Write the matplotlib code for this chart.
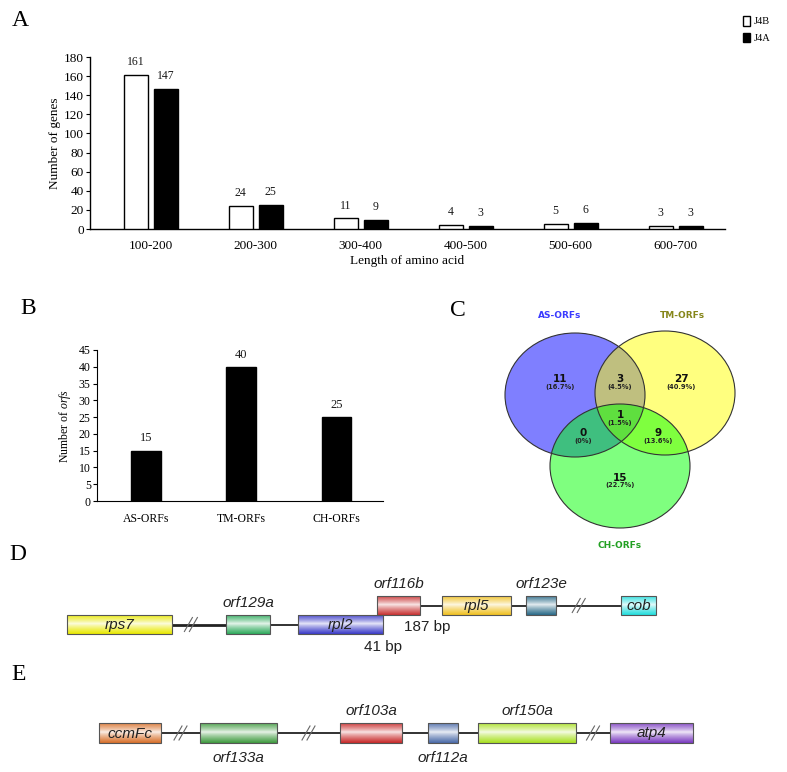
import numpy as np
import matplotlib
matplotlib.use('Agg')
import matplotlib.pyplot as plt
from matplotlib.patches import Ellipse, Rectangle, Patch

W, H = 787, 772
plt.rcParams['font.family'] = ['Liberation Serif', 'DejaVu Serif']
plt.rcParams['mathtext.fontset'] = 'custom'
plt.rcParams['mathtext.rm'] = 'Liberation Serif'
plt.rcParams['mathtext.it'] = 'Liberation Serif:italic'

# ---------------- data ----------------
len_bins = ['100-200', '200-300', '300-400', '400-500', '500-600', '600-700']
j4b_counts = [161, 24, 11, 4, 5, 3]
j4a_counts = [147, 25, 9, 3, 6, 3]

orf_groups = ['AS-ORFs', 'TM-ORFs', 'CH-ORFs']
orf_counts = [15, 40, 25]

venn_sets = ['AS-ORFs', 'TM-ORFs', 'CH-ORFs']
venn_regions = ['AS', 'TM', 'AS&TM', 'ALL', 'AS&CH', 'TM&CH', 'CH']
venn_counts = [11, 27, 3, 1, 0, 9, 15]

d_genes = ['rps7', 'orf129a', 'rpl2', 'orf116b', 'rpl5', 'orf123e', 'cob']
d_start = [67, 226, 298, 377, 442, 526, 621]
d_end = [172, 270, 383, 420, 511, 556, 656]
d_level = [0, 0, 0, 1, 1, 1, 1]
d_label_pos = ['in', 'above', 'in', 'above', 'in', 'above', 'in']
d_breaks_after = [0, 5]
d_notes = ['41 bp', '187 bp']

e_genes = ['ccmFc', 'orf133a', 'orf103a', 'orf112a', 'orf150a', 'atp4']
e_start = [99, 200, 340, 428, 478, 610]
e_end = [161, 277, 402, 458, 576, 693]
e_level = [0, 0, 0, 0, 0, 0]
e_label_pos = ['in', 'below', 'above', 'below', 'above', 'in']
e_breaks_after = [0, 1, 4]

# ---------------- figure ----------------
fig = plt.figure(figsize=(W / 100, H / 100), dpi=100)


def ax_px(l, t, r, b):
    return fig.add_axes([l / W, 1 - b / H, (r - l) / W, (b - t) / H])


def letter(x, y, s):
    fig.text(x / W, 1 - y / H, s, fontsize=17, ha='center', va='center',
             family=['Liberation Serif'])


# ---------- Panel A ----------
axA = ax_px(90, 57, 725, 229)
x = np.arange(len(len_bins))
bw = 0.23
off = 0.143
axA.bar(x - off, j4b_counts, bw, color='white', edgecolor='black', lw=1.0, label='J4B', zorder=3)
axA.bar(x + off, j4a_counts, bw, color='black', edgecolor='black', lw=1.0, label='J4A', zorder=3)
for xi, v in zip(x, j4b_counts):
    axA.annotate(str(v), (xi - off, v), xytext=(0, 5), textcoords='offset points',
                 ha='center', va='bottom', fontsize=8.5, color='#1a1a1a')
for xi, v in zip(x, j4a_counts):
    axA.annotate(str(v), (xi + off, v), xytext=(0, 5), textcoords='offset points',
                 ha='center', va='bottom', fontsize=8.5, color='#1a1a1a')
axA.set_xlim(-0.58, 5.47)
axA.set_ylim(0, 180)
axA.set_yticks(np.arange(0, 181, 20))
axA.set_xticks(x)
axA.set_xticklabels(len_bins)
axA.tick_params(axis='x', length=0, pad=8, labelsize=9.5)
axA.tick_params(axis='y', length=3, width=0.8, pad=1.5, labelsize=9.5, direction='out')
for s in ['top', 'right']:
    axA.spines[s].set_visible(False)
for s in ['left', 'bottom']:
    axA.spines[s].set_linewidth(1.0)
axA.set_ylabel('Number of genes', fontsize=9.5, labelpad=2)
axA.set_xlabel('Length of amino acid', fontsize=9.5, labelpad=2)
handles = [Patch(facecolor='white', edgecolor='black', lw=1.0, label='J4B'),
           Patch(facecolor='black', edgecolor='black', lw=1.0, label='J4A')]
fig.legend(handles=handles, loc='upper left', bbox_to_anchor=(738 / W, 1 - 11 / H),
           frameon=False, fontsize=7.5, handlelength=0.65, handleheight=1.0,
           handletextpad=0.4, labelspacing=0.6, borderpad=0)
letter(20, 20, 'A')

# ---------- Panel B ----------
axB = ax_px(97, 350, 383, 501)
xb = np.arange(len(orf_groups))
axB.bar(xb, orf_counts, 0.31, color='black', edgecolor='black', zorder=3)
for xi, v in zip(xb, orf_counts):
    axB.annotate(str(v), (xi, v), xytext=(0, 4.5), textcoords='offset points',
                 ha='center', va='bottom', fontsize=9, color='#1a1a1a')
axB.set_xlim(-0.514, 2.49)
axB.set_ylim(0, 45)
axB.set_yticks(np.arange(0, 46, 5))
axB.set_xticks(xb)
axB.set_xticklabels(orf_groups)
axB.tick_params(axis='x', length=0, pad=9, labelsize=8.5)
axB.tick_params(axis='y', length=3, width=0.8, pad=1.5, labelsize=8.5, direction='out')
for s in ['top', 'right']:
    axB.spines[s].set_visible(False)
axB.set_ylabel('Number of $\\mathit{orfs}$', fontsize=8.5, labelpad=4)
letter(28, 308, 'B')

# ---------- Panel C (Venn) ----------
axC = ax_px(440, 290, 787, 560)
axC.set_xlim(440, 787)
axC.set_ylim(560, 290)
axC.axis('off')
circ_centers = [(575, 395), (665, 393), (620, 466)]
circ_fill = ['#0000ff', '#ffff00', '#00ff00']
set_label_xy = [(560, 315), (682, 315), (620, 546)]
set_label_col = ['#3a3aff', '#86861a', '#22a022']
for (cx, cy), fc in zip(circ_centers, circ_fill):
    axC.add_patch(Ellipse((cx, cy), 140, 124, facecolor=fc, alpha=0.5, edgecolor='none', zorder=2))
for (cx, cy) in circ_centers:
    axC.add_patch(Ellipse((cx, cy), 140, 124, facecolor='none', edgecolor='#333333', lw=0.8, zorder=3))
for name, (sx, sy), col in zip(venn_sets, set_label_xy, set_label_col):
    axC.text(sx, sy, name, ha='center', va='center', fontsize=6.5, fontweight='bold',
             color=col, family=['DejaVu Sans'])
region_xy = {'AS': (560, 379), 'TM': (681, 379), 'AS&TM': (620, 379), 'ALL': (620, 415),
             'AS&CH': (583, 433), 'TM&CH': (658, 433), 'CH': (620, 478)}
total = sum(venn_counts)
for reg, cnt in zip(venn_regions, venn_counts):
    rx, ry = region_xy[reg]
    pct = cnt / total * 100
    ptxt = '(0%)' if cnt == 0 else f'({pct:.1f}%)'
    axC.text(rx, ry, str(cnt), ha='center', va='center', fontsize=7.5, fontweight='bold',
             color='#111111', family=['DejaVu Sans'], zorder=5)
    axC.text(rx, ry + 7.5, ptxt, ha='center', va='center', fontsize=4.8, fontweight='bold',
             color='#222222', family=['DejaVu Sans'], zorder=5)
letter(458, 310, 'C')

# ---------- Panels D & E (gene maps) ----------
axG = ax_px(0, 560, 787, 772)
axG.set_xlim(0, 787)
axG.set_ylim(772, 560)
axG.axis('off')


def grad_img(color):
    c = np.array(matplotlib.colors.to_rgb(color))
    t = np.linspace(0, 1, 60)
    w = np.clip(np.abs(t - 0.45) / 0.55, 0, 1) ** 0.8
    w = 0.1 + 0.9 * w
    img = (1 - w)[:, None] * np.ones(3)[None, :] + w[:, None] * c[None, :]
    return np.repeat(img[:, None, :], 2, axis=1)


def draw_map(genes, starts, ends, levels, label_pos, breaks_after, colors, level_tops, box_h):
    for i in range(len(genes) - 1):
        if levels[i] == levels[i + 1] and ends[i] < starts[i + 1]:
            yc = level_tops[levels[i]] + box_h / 2
            lw = 2.0 if (i == 0 and genes[0] == 'rps7') else 1.3
            axG.plot([ends[i], starts[i + 1]], [yc, yc], color='#222222', lw=lw, zorder=1,
                     solid_capstyle='butt')
            if i in breaks_after:
                xm = ends[i] + (starts[i + 1] - ends[i]) * (0.35 if genes[0] == 'rps7' else 0.5)
                for dx in (-2.5, 2.5):
                    axG.plot([xm + dx - 4, xm + dx + 4], [yc + 7, yc - 7], color='#666666',
                             lw=0.8, zorder=2)
    for g, s, e, lv, lp, col in zip(genes, starts, ends, levels, label_pos, colors):
        top = level_tops[lv]
        bot = top + box_h
        axG.imshow(grad_img(col), extent=(s, e, bot, top), aspect='auto', zorder=3,
                   interpolation='bilinear')
        axG.add_patch(Rectangle((s, top), e - s, box_h, facecolor='none', edgecolor='#555555',
                                lw=0.8, zorder=4))
        xc = (s + e) / 2
        if lp == 'in':
            yt = (top + bot) / 2 + 0.5
        elif lp == 'above':
            yt = top - 12
        else:
            yt = bot + 15
        axG.text(xc, yt, g, ha='center', va='center', fontsize=11,
                 style='italic', color='#222222', family=['Liberation Sans'], zorder=5)


d_colors = ['#e8e800', '#2eaa5c', '#3a3ac8', '#c83232', '#f0c020', '#2a6a88', '#22dddd']
e_colors = ['#d8702a', '#3f9a3f', '#c82828', '#4a6aa8', '#a8e020', '#7a3ac0']
draw_map(d_genes, d_start, d_end, d_level, d_label_pos, d_breaks_after, d_colors, [615, 596], 19)
draw_map(e_genes, e_start, e_end, e_level, e_label_pos, e_breaks_after, e_colors, [723], 20)
axG.text(383, 647, d_notes[0], ha='center', va='center', fontsize=11, color='#222222',
         family=['Liberation Sans'])
axG.text(427, 627, d_notes[1], ha='center', va='center', fontsize=11, color='#222222',
         family=['Liberation Sans'])
axG.set_xlim(0, 787)
axG.set_ylim(772, 560)
letter(18, 555, 'D')
letter(19, 675, 'E')

fig.savefig('out.png', dpi=100)
